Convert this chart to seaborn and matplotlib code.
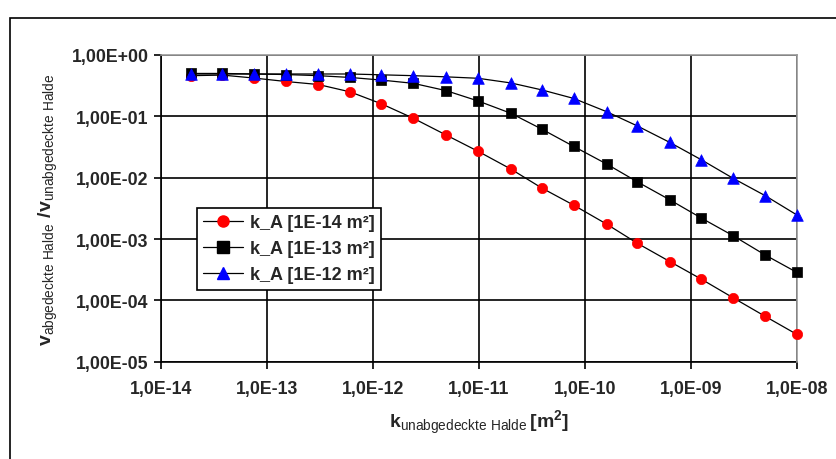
import numpy as np
import pandas as pd
import matplotlib
matplotlib.use('Agg')
import matplotlib.pyplot as plt
from matplotlib.lines import Line2D
from matplotlib.patches import Rectangle
import seaborn as sns

# permeability of the uncovered heap [m²]
k_unabgedeckt = [1.9e-14, 3.8e-14, 7.6e-14, 1.5e-13, 3.05e-13, 6.1e-13, 1.2e-12, 2.4e-12,
                 4.9e-12, 9.8e-12, 2.0e-11, 3.9e-11, 7.8e-11, 1.6e-10, 3.1e-10, 6.3e-10,
                 1.25e-9, 2.5e-9, 5.0e-9, 1.0e-8]

# ratio v_abgedeckt / v_unabgedeckt
v_kA_1e14 = [0.46, 0.47, 0.42, 0.37, 0.33, 0.25, 0.16, 0.093, 0.0495, 0.0269, 0.0138, 0.0068,
             0.00357, 0.00175, 0.000857, 0.00043, 0.000222, 0.00011, 5.5e-5, 2.78e-5]
v_kA_1e13 = [0.50, 0.50, 0.49, 0.48, 0.46, 0.43, 0.39, 0.345, 0.262, 0.178, 0.112, 0.062,
             0.0324, 0.0167, 0.0086, 0.00436, 0.0022, 0.00113, 0.00055, 0.000285]
v_kA_1e12 = [0.49, 0.49, 0.49, 0.49, 0.49, 0.49, 0.475, 0.46, 0.44, 0.417, 0.35, 0.27,
             0.196, 0.119, 0.070, 0.0376, 0.0196, 0.00975, 0.0051, 0.00246]

series_names = ['k_A [1E-14 m²]', 'k_A [1E-13 m²]', 'k_A [1E-12 m²]']
series_colors = ['#ff0000', '#000000', '#0000ff']
series_markers = ['o', 's', '^']
x_ticks = [1e-14, 1e-13, 1e-12, 1e-11, 1e-10, 1e-9, 1e-8]
x_ticklabels = ['1,0E-14', '1,0E-13', '1,0E-12', '1,0E-11', '1,0E-10', '1,0E-09', '1,0E-08']
y_ticks = [1e-5, 1e-4, 1e-3, 1e-2, 1e-1, 1e0]
y_ticklabels = ['1,00E-05', '1,00E-04', '1,00E-03', '1,00E-02', '1,00E-01', '1,00E+00']

df = pd.DataFrame({
    'k': k_unabgedeckt * 3,
    'v': v_kA_1e14 + v_kA_1e13 + v_kA_1e12,
    'serie': [n for n in series_names for _ in k_unabgedeckt],
})

sns.set_style('white')
plt.rcParams['font.family'] = ['Liberation Sans', 'DejaVu Sans']
plt.rcParams['mathtext.fontset'] = 'custom'
plt.rcParams['mathtext.rm'] = 'Liberation Sans'
plt.rcParams['mathtext.bf'] = 'Liberation Sans:bold'
plt.rcParams['mathtext.sf'] = 'Liberation Sans'

fig = plt.figure(figsize=(8.37, 4.6), dpi=100)
ax = fig.add_axes([0.1924, 0.2115, 0.7598, 0.6668])

# outer chart frame
fig.patches.append(Rectangle((10 / 837, -0.1), 1.2, 1 - 19 / 460 + 0.1, transform=fig.transFigure,
                             fill=False, edgecolor='black', linewidth=1.2, zorder=0))

ax.set_xscale('log')
ax.set_yscale('log')

for name, col, mk in zip(series_names, series_colors, series_markers):
    sub = df[df['serie'] == name]
    sns.lineplot(data=sub, x='k', y='v', ax=ax, color='black', linewidth=0.9, zorder=2)
for name, col, mk in zip(series_names, series_colors, series_markers):
    sub = df[df['serie'] == name]
    sns.scatterplot(data=sub, x='k', y='v', ax=ax, color=col, marker=mk,
                    s=70 if mk == '^' else 55, edgecolor=col, linewidth=0.5, zorder=5,
                    clip_on=False)

ax.set_xlim(1e-14, 1e-8)
ax.set_ylim(1e-5, 1e0)
ax.set_xticks(x_ticks)
ax.set_xticklabels(x_ticklabels)
ax.set_yticks(y_ticks)
ax.set_yticklabels(y_ticklabels)
ax.minorticks_off()
ax.tick_params(axis='both', which='major', direction='out', length=5, width=1.2,
               color='black', labelsize=12.8, pad=4, left=True, bottom=True)
for lab in ax.get_xticklabels() + ax.get_yticklabels():
    lab.set_fontweight('bold')
ax.tick_params(axis='x', pad=8)

ax.grid(True, which='major', color='black', linewidth=1.2)
for side in ['left', 'bottom']:
    ax.spines[side].set_color('black')
    ax.spines[side].set_linewidth(1.2)
for side in ['top', 'right']:
    ax.spines[side].set_color('#999999')
    ax.spines[side].set_linewidth(1.2)
    ax.spines[side].set_zorder(4)

ax.set_xlabel(r'$\mathbf{k}_{\mathrm{unabgedeckte\ Halde}}\,\mathbf{[m^2]}$', fontsize=14, labelpad=8)
ax.set_ylabel(r'$\mathbf{v}_{\mathrm{abgedeckte\ Halde}}\ \mathbf{/v}_{\mathrm{unabgedeckte\ Halde}}$',
              fontsize=14, labelpad=8)

handles = [Line2D([0], [0], color='black', linewidth=0.9, marker=mk, markersize=8,
                  markerfacecolor=col, markeredgecolor=col)
           for col, mk in zip(series_colors, series_markers)]
leg = ax.legend(handles, series_names, loc='upper left', bbox_to_anchor=(0.0566, 0.501),
                frameon=True, fancybox=False, edgecolor='black', framealpha=1,
                borderaxespad=0, handlelength=2.2, handletextpad=0.4,
                prop={'family': 'Liberation Sans', 'weight': 'bold', 'size': 13},
                labelspacing=0.5, borderpad=0.35)
leg.get_frame().set_linewidth(1.2)

fig.savefig('out.png', dpi=100)
